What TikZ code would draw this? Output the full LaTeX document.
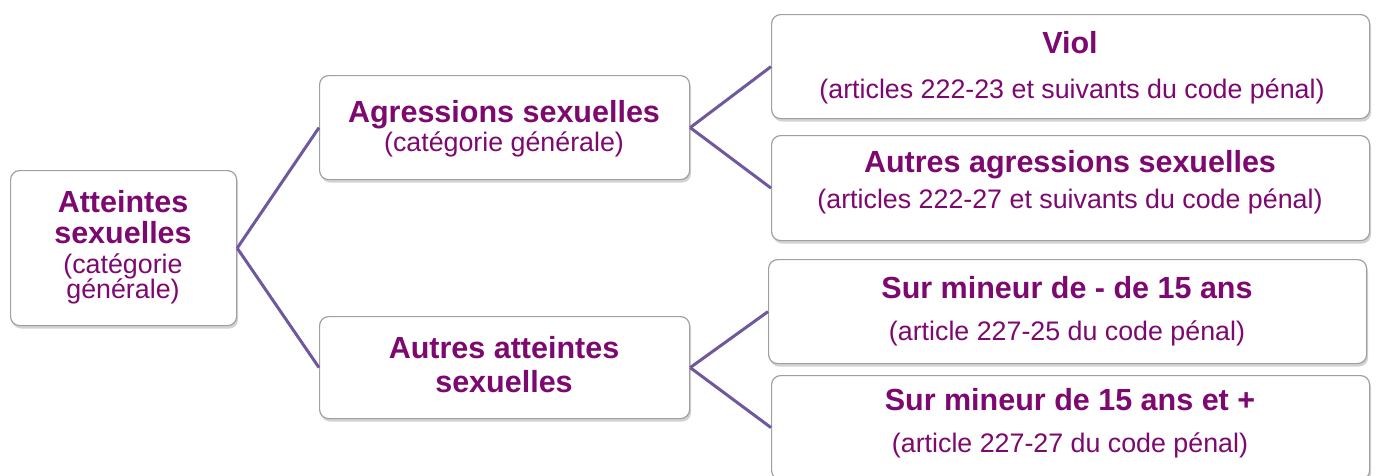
\documentclass[tikz,border=0pt]{standalone}
\usepackage{fontspec}
\setmainfont{Liberation Sans}
\usetikzlibrary{shadows}
\definecolor{txtc}{RGB}{125,8,112}
\definecolor{linec}{RGB}{112,88,158}
\definecolor{boxc}{RGB}{160,160,160}
\tikzset{
  box/.style={draw=boxc, line width=1.2pt, rounded corners=9pt, fill=white,
    inner sep=0pt, anchor=north west,
    drop shadow={opacity=0.35, shadow xshift=1.5pt, shadow yshift=-3pt}},
  conn/.style={draw=linec, line width=3pt},
  bt/.style={text=txtc, font=\fontsize{30.5}{31}\selectfont\bfseries, anchor=base, inner sep=0pt},
  rt/.style={text=txtc, font=\fontsize{26.8}{27}\selectfont, anchor=base, inner sep=0pt}
}
\begin{document}
\begin{tikzpicture}[x=1pt,y=-1pt]
\useasboundingbox (0,0) rectangle (1376,475);
\clip (0,0) rectangle (1376,475);
% boxes
\node[box, minimum width=226pt, minimum height=155pt] (A) at (10,170) {};
\node[box, minimum width=370pt, minimum height=104pt] (B) at (319,75) {};
\node[box, minimum width=370pt, minimum height=102pt] (C) at (319,316) {};
\node[box, minimum width=598pt, minimum height=104pt] (V) at (771,14) {};
\node[box, minimum width=598pt, minimum height=105pt] (D) at (771,135) {};
\node[box, minimum width=598pt, minimum height=104pt] (E) at (768,259) {};
\node[box, minimum width=598pt, minimum height=104pt] (F) at (771,375) {};
% connectors
\draw[conn] (A.east) -- (B.west);
\draw[conn] (A.east) -- (C.west);
\draw[conn] (B.east) -- (V.west);
\draw[conn] (B.east) -- (D.west);
\draw[conn] (C.east) -- (E.west);
\draw[conn] (C.east) -- (F.west);
% texts
\node[bt] (A1) at (123,212) {Atteintes};
\node[bt] (A2) at (123,243) {sexuelles};
\node[rt] (A3) at (123,273) {(catégorie};
\node[rt] (A4) at (123,298) {générale)};
\node[bt] (B1) at (504,122) {Agressions sexuelles};
\node[rt] (B2) at (504,151) {(catégorie générale)};
\node[bt] (C1) at (504,358) {Autres atteintes};
\node[bt] (C2) at (504,392) {sexuelles};
\node[bt] (V1) at (1070,53) {Viol};
\node[rt] (V2) at (1072,98) {(articles 222-23 et suivants du code pénal)};
\node[bt] (D1) at (1070,172) {Autres agressions sexuelles};
\node[rt] (D2) at (1070,208) {(articles 222-27 et suivants du code pénal)};
\node[bt] (E1) at (1067,298) {Sur mineur de - de 15 ans};
\node[rt] (E2) at (1067,340) {(article 227-25 du code pénal)};
\node[bt] (F1) at (1070,410) {Sur mineur de 15 ans et +};
\node[rt] (F2) at (1070,452) {(article 227-27 du code pénal)};
\end{tikzpicture}
\end{document}
